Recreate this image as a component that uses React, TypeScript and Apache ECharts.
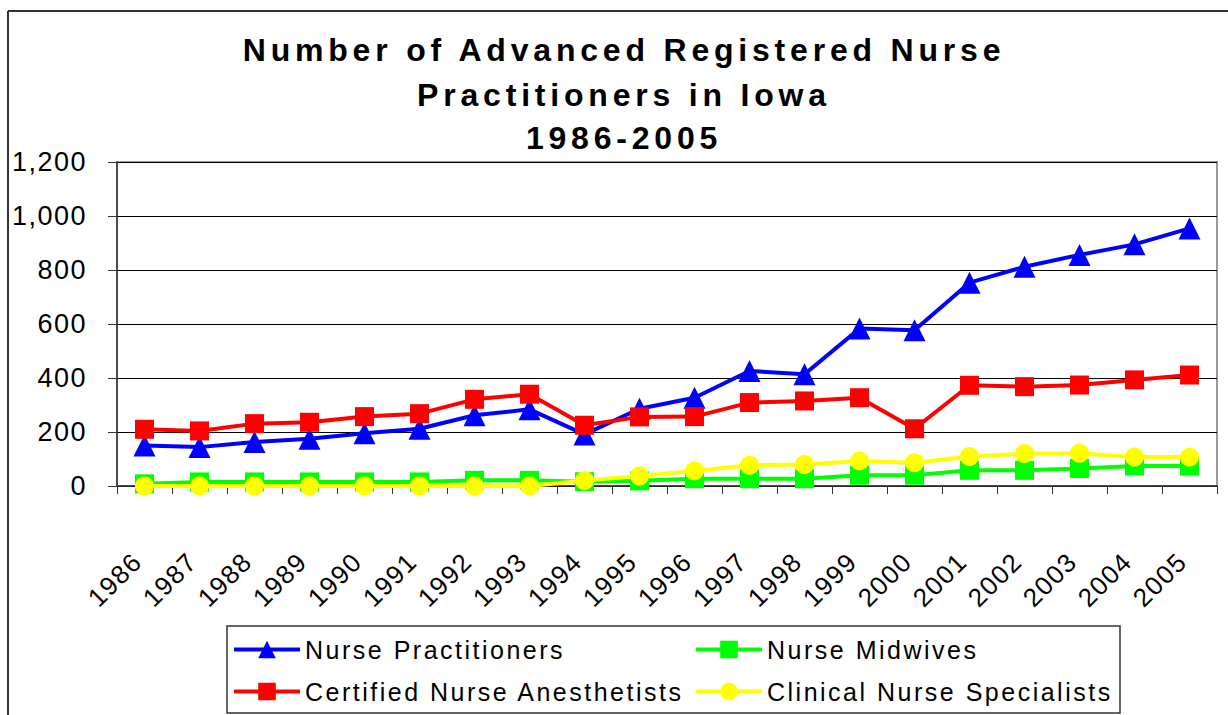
import React, { useEffect, useRef } from "react";
import * as echarts from "echarts";

const years = ["1986","1987","1988","1989","1990","1991","1992","1993","1994","1995","1996","1997","1998","1999","2000","2001","2002","2003","2004","2005"];
const nursePractitioners = [150,144,163,175,195,212,262,284,191,286,327,426,414,583,577,753,812,856,895,954];
const nurseAnesthetists = [210,204,231,236,257,268,321,340,225,256,257,309,315,327,212,373,368,374,393,411];
const nurseMidwives = [8,15,15,15,15,15,21,21,16,19,27,27,27,40,40,58,58,65,74,74];
const clinicalSpecialists = [0,0,0,0,0,0,0,0,20,37,56,77,80,93,86,109,120,121,107,107];
const titleLines = ["Number of Advanced Registered Nurse", "Practitioners in Iowa", "1986-2005"];

const FONT = "'Liberation Sans', Arial, sans-serif";

export default function App() {
  const ref = useRef<HTMLDivElement>(null);
  useEffect(() => {
    document.body.style.margin = "0";
    const chart = echarts.init(ref.current!, null, { renderer: "svg" });
    const legendBase = {
      orient: "horizontal",
      padding: 0,
      itemWidth: 66,
      itemHeight: 22,
      itemGap: 0,
      lineStyle: { width: 4 },
      textStyle: { fontSize: 25, fontFamily: FONT, color: "#000" },
      selectedMode: false,
    };
    const titleY = [50, 95, 138];
    chart.setOption({
      animation: false,
      backgroundColor: "#fff",
      grid: { left: 117, top: 162, right: 11, bottom: 229, show: true, borderColor: "#999", borderWidth: 2 },
      xAxis: {
        type: "category",
        data: years,
        boundaryGap: true,
        axisLine: { lineStyle: { color: "#333", width: 1.5 } },
        axisTick: { show: true, length: 8, lineStyle: { color: "#333" } },
        axisLabel: {
          rotate: 45,
          margin: 64,
          padding: [0, 10, 0, 0],
          fontSize: 26,
          fontFamily: FONT,
          color: "#000",
          interval: 0,
        },
      },
      yAxis: {
        type: "value",
        min: 0,
        max: 1200,
        interval: 200,
        axisLine: { show: true, lineStyle: { color: "#333", width: 1.5 } },
        axisTick: { show: true, length: 9, lineStyle: { color: "#333" } },
        axisLabel: {
          margin: 30,
          fontSize: 27,
          fontFamily: FONT,
          color: "#000",
          formatter: (v: number) => v.toLocaleString("en-US"),
        },
        splitLine: { lineStyle: { color: "#000", width: 1 } },
      },
      legend: [
        { ...legendBase, data: ["Nurse Practitioners"], left: 232, top: 637 },
        { ...legendBase, data: ["Nurse Midwives"], left: 694, top: 637 },
        { ...legendBase, data: ["Certified Nurse Anesthetists"], left: 232, top: 679 },
        { ...legendBase, data: ["Clinical Nurse Specialists"], left: 694, top: 679 },
      ],
      graphic: [
        { type: "line", shape: { x1: 8, y1: 11, x2: 1228, y2: 11 }, style: { stroke: "#333", lineWidth: 2 } },
        { type: "line", shape: { x1: 8, y1: 11, x2: 8, y2: 715 }, style: { stroke: "#333", lineWidth: 2 } },
        { type: "rect", shape: { x: 227, y: 626, width: 893, height: 87 }, style: { stroke: "#333", lineWidth: 1.5, fill: "none" } },
        ...titleLines.map((t, i) => ({
          type: "text",
          x: 624,
          y: titleY[i],
          style: {
            text: t,
            fontSize: 32,
            fontWeight: "bold",
            fontFamily: FONT,
            fill: "#000",
            textAlign: "center",
            textVerticalAlign: "middle",
          },
        })),
      ],
      series: [
        {
          name: "Nurse Practitioners",
          type: "line",
          data: nursePractitioners,
          symbol: "triangle",
          symbolSize: 22,
          itemStyle: { color: "#0000FF" },
          lineStyle: { color: "#0000FF", width: 4 },
          z: 2,
        },
        {
          name: "Nurse Midwives",
          type: "line",
          data: nurseMidwives,
          symbol: "rect",
          symbolSize: 19,
          itemStyle: { color: "#00FF00" },
          lineStyle: { color: "#00FF00", width: 4 },
          z: 2,
        },
        {
          name: "Certified Nurse Anesthetists",
          type: "line",
          data: nurseAnesthetists,
          symbol: "rect",
          symbolSize: 19,
          itemStyle: { color: "#FF0000" },
          lineStyle: { color: "#FF0000", width: 4 },
          z: 3,
        },
        {
          name: "Clinical Nurse Specialists",
          type: "line",
          data: clinicalSpecialists,
          symbol: "circle",
          symbolSize: 19,
          itemStyle: { color: "#FFFF00" },
          lineStyle: { color: "#FFFF00", width: 4 },
          z: 3,
        },
      ],
    });
    return () => chart.dispose();
  }, []);
  return (
    <>
      <style>{`
        #chart text[style*="32px"] { letter-spacing: 4.8px; }
        #chart text[style*="27px"] { letter-spacing: 1.5px; }
        #chart text[style*="26px"] { letter-spacing: 1.5px; }
        #chart text[style*="25px"] { letter-spacing: 2.5px; }
      `}</style>
      <div id="chart" ref={ref} style={{ width: 1228, height: 715 }} />
    </>
  );
}
